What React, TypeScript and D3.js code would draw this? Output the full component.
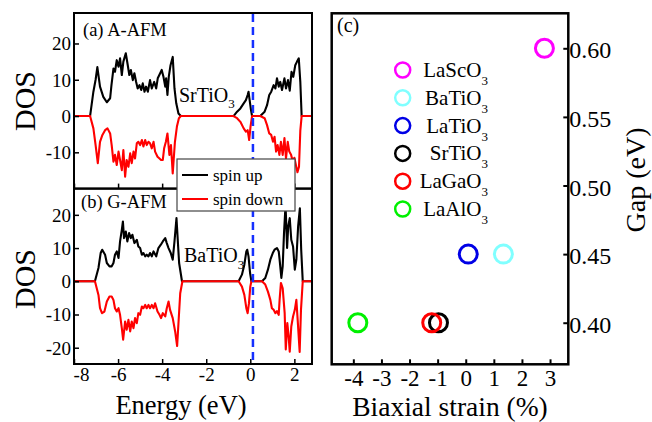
import * as d3 from 'd3';
import { useEffect, useRef } from 'react';

// (a) A-AFM, SrTiO3 : [energy (eV), DOS]
const aUp = [
  [-8, 0], [-7.27, 0], [-7.12, 6.7], [-7.02, 10], [-6.94, 13.5], [-6.82, 8.1], [-6.67, 5.3], [-6.51, 3.8],
  [-6.36, 4.9], [-6.3, 8.5], [-6.21, 13.1], [-6.14, 12.2], [-6.06, 15.4], [-5.98, 13.6], [-5.91, 15.9],
  [-5.83, 11.3], [-5.76, 15.0], [-5.65, 17.3], [-5.56, 14.0], [-5.49, 11.3], [-5.42, 12.7], [-5.33, 9.9],
  [-5.26, 11.8], [-5.18, 9.4], [-5.11, 7.6], [-5.03, 8.5], [-4.95, 7.2], [-4.88, 9.0], [-4.8, 6.7],
  [-4.73, 8.1], [-4.65, 6.7], [-4.55, 9.9], [-4.47, 7.6], [-4.36, 9.4], [-4.27, 7.6], [-4.2, 10.4],
  [-4.09, 11.8], [-4.02, 12.7], [-3.94, 10.8], [-3.86, 8.1], [-3.82, 10.4], [-3.76, 5.8], [-3.7, 10.8],
  [-3.62, 14.0], [-3.52, 16.3], [-3.44, 7.6], [-3.36, 3.5], [-3.26, 0.7], [-3.15, 0],
  [-0.76, 0], [-0.6, 1.2], [-0.45, 2.1], [-0.3, 3.5], [-0.2, 4.4], [-0.12, 5.8], [-0.08, 6.7],
  [-0.03, 4.4], [0.03, 1.7], [0.08, 0],
  [0.45, 0], [0.65, 1.2], [0.76, 3.0], [0.86, 5.8], [0.95, 6.7], [1.06, 8.5], [1.14, 7.6], [1.21, 10.4],
  [1.29, 8.1], [1.36, 9.4], [1.44, 7.2], [1.55, 10.4], [1.62, 7.6], [1.71, 9.9], [1.79, 7.0], [1.87, 12.2],
  [1.95, 10.8], [2.04, 14.0], [2.12, 15.0], [2.2, 15.9], [2.27, 9.4], [2.33, 0], [2.8, 0],
];
const aDown = [
  [-8, 0], [-7.27, 0], [-7.12, -3.4], [-7.02, -8], [-6.92, -13], [-6.82, -7.1], [-6.71, -5.2], [-6.59, -3.9],
  [-6.48, -3.4], [-6.36, -4.8], [-6.29, -8], [-6.21, -12.6], [-6.14, -10.7], [-6.06, -13.5], [-5.98, -9.8],
  [-5.91, -12.1], [-5.83, -14.9], [-5.76, -9.4], [-5.68, -16.7], [-5.61, -12.1], [-5.53, -14], [-5.45, -10.3],
  [-5.38, -13], [-5.3, -9.8], [-5.23, -11.7], [-5.15, -7.5], [-5.08, -7.1], [-5.0, -8], [-4.92, -6.6],
  [-4.85, -8.4], [-4.77, -6.6], [-4.7, -8], [-4.62, -7.1], [-4.55, -7.5], [-4.47, -8.9], [-4.39, -7.1],
  [-4.32, -9.8], [-4.21, -11.2], [-4.12, -11.7], [-4.05, -12.1], [-3.97, -12.1], [-3.91, -8.9], [-3.83, -7.1],
  [-3.76, -4.8], [-3.67, -10.7], [-3.6, -8], [-3.52, -15.8], [-3.42, -7.1], [-3.33, -2.9], [-3.24, -0.6],
  [-3.15, 0],
  [-0.76, 0], [-0.6, -0.6], [-0.45, -1.6], [-0.3, -3.4], [-0.2, -4.3], [-0.12, -3.9], [-0.05, -6.6],
  [0.01, -2.9], [0.08, 0],
  [0.45, 0], [0.65, -0.6], [0.76, -2.5], [0.86, -4.8], [0.95, -5.2], [1.03, -7.1], [1.1, -5.7], [1.17, -9.8],
  [1.24, -8], [1.32, -10.7], [1.39, -7.1], [1.47, -10.7], [1.55, -6.1], [1.62, -11.7], [1.7, -7.1],
  [1.77, -9.8], [1.85, -10.7], [1.93, -12.5], [2.0, -11.5], [2.07, -13.5], [2.14, -15.5], [2.21, -14],
  [2.27, -4], [2.33, 0], [2.8, 0],
];

// (b) G-AFM, BaTiO3
const bUp = [
  [-8, 0], [-7.05, 0], [-6.89, 4.0], [-6.79, 8.5], [-6.72, 9.5], [-6.59, 8.0], [-6.51, 5.5], [-6.39, 4.5],
  [-6.29, 4.5], [-6.21, 5.5], [-6.14, 8.0], [-6.06, 9.0], [-5.98, 7.0], [-5.91, 12.0], [-5.83, 15.5],
  [-5.78, 18.0], [-5.73, 13.0], [-5.65, 15.0], [-5.58, 12.0], [-5.5, 14.5], [-5.42, 13.0], [-5.35, 14.0],
  [-5.26, 11.5], [-5.15, 12.5], [-5.08, 10.5], [-5.0, 10.0], [-4.92, 8.0], [-4.85, 8.5], [-4.77, 7.5],
  [-4.7, 8.0], [-4.62, 7.5], [-4.55, 8.5], [-4.47, 7.5], [-4.39, 9.0], [-4.27, 7.5], [-4.17, 10.0],
  [-4.06, 11.0], [-3.97, 12.0], [-3.86, 13.0], [-3.79, 11.5], [-3.71, 10.0], [-3.61, 8.5], [-3.52, 6.5],
  [-3.44, 12], [-3.35, 19.0], [-3.23, 5.5], [-3.1, 0],
  [-0.53, 0], [-0.38, 2.0], [-0.27, 5.0], [-0.18, 9.0], [-0.14, 9.5], [-0.08, 7.5], [-0.01, 2.5], [0.05, 0],
  [0.53, 0], [0.68, 1.0], [0.8, 3.5], [0.91, 6.5], [1.02, 8.5], [1.1, 9.5], [1.21, 10.0], [1.29, 9.0],
  [1.33, 6.5], [1.41, 1.0], [1.47, 4.5], [1.53, 14.5], [1.6, 23], [1.67, 10.0], [1.72, 16.5], [1.79, 19.0],
  [1.86, 12.5], [1.94, 10.5], [2.02, 3.5], [2.09, 6.5], [2.17, 16.5], [2.25, 22.0], [2.31, 9.5], [2.38, 0],
  [2.8, 0],
];
const bDown = [
  [-8, 0], [-7.05, 0], [-6.89, -4.1], [-6.82, -8.1], [-6.73, -9.6], [-6.62, -9.1], [-6.51, -6.1],
  [-6.39, -4.6], [-6.29, -4.6], [-6.21, -5.6], [-6.14, -8.1], [-6.06, -9.1], [-5.98, -8.1], [-5.91, -10.1],
  [-5.83, -14.1], [-5.77, -17.6], [-5.68, -12.1], [-5.61, -14.6], [-5.53, -11.6], [-5.45, -15.1],
  [-5.38, -12.1], [-5.3, -14.1], [-5.23, -11.1], [-5.15, -12.6], [-5.08, -9.6], [-5.0, -10.1], [-4.92, -7.6],
  [-4.85, -8.1], [-4.77, -7.1], [-4.7, -8.1], [-4.62, -7.1], [-4.55, -8.1], [-4.47, -7.1], [-4.39, -8.1],
  [-4.32, -6.6], [-4.21, -9.1], [-4.12, -10.1], [-4.05, -11.1], [-3.97, -9.6], [-3.86, -10.6], [-3.79, -8.1],
  [-3.71, -6.1], [-3.64, -8.6], [-3.52, -11.1], [-3.41, -15.1], [-3.32, -19.5], [-3.18, -3.6], [-3.08, 0],
  [-0.53, 0], [-0.38, -1.6], [-0.27, -4.1], [-0.18, -8.1], [-0.12, -9.6], [-0.06, -6.6], [0.0, -1.6],
  [0.05, 0],
  [0.53, 0], [0.68, -1.0], [0.8, -3.1], [0.91, -5.6], [0.98, -8.1], [1.06, -8.6], [1.14, -9.6],
  [1.21, -9.0], [1.29, -10.1], [1.33, -5.6], [1.39, -0.5], [1.47, -2.1], [1.56, -9.6], [1.61, -20.5],
  [1.68, -12.6], [1.74, -16.6], [1.79, -21.2], [1.86, -13.6], [1.94, -10.6], [2.02, -8.6], [2.09, -5.6],
  [2.15, -11.6], [2.24, -21.3], [2.3, -8.6], [2.38, 0], [2.8, 0],
];

const fermiLevel = 0.12;
const energyTicks = [-8, -6, -4, -2, 0, 2];
const dosTicksA = [-10, 0, 10, 20];
const dosTicksB = [-20, -10, 0, 10, 20];

// (c) gap vs strain
const materials = ['LaScO', 'BaTiO', 'LaTiO', 'SrTiO', 'LaGaO', 'LaAlO'];
const strain = [2.8, 1.34, 0.09, -0.97, -1.21, -3.84];
const gap = [0.6, 0.45, 0.45, 0.4, 0.4, 0.4];
const colors = ['#ff00ff', '#80ffff', '#0000e6', '#000000', '#ff0000', '#00f000'];
const strainTicks = [-4, -3, -2, -1, 0, 1, 2, 3];
const gapTicks = [0.4, 0.45, 0.5, 0.55, 0.6];

const FONT = "'Liberation Serif', 'Times New Roman', serif";
// plain hyphen instead of d3's unicode minus, like the original figure
const plain = (fmt) => (d) => d3.format(fmt)(d).replace('\u2212', '-');

const App = () => {
  const ref = useRef(null);

  useEffect(() => {
    const width = 652;
    const height = 422;
    ref.current.innerHTML = '';
    const svg = d3
      .select(ref.current)
      .append('svg')
      .attr('width', width)
      .attr('height', height)
      .style('position', 'absolute')
      .style('left', 0)
      .style('top', 0)
      .style('background', '#fff')
      .style('font-family', FONT);

    // left panels geometry
    const left = 74;
    const right = 312;
    const aTop = 13;
    const mid = 188.6;
    const bBottom = 364;

    const x = d3.scaleLinear([-8, 2.8], [left, right]);
    const yA = d3.scaleLinear([-20, 28.4], [mid, aTop]);
    const yB = d3.scaleLinear([-24.9, 27.9], [bBottom, mid]);

    const defs = svg.append('defs');
    defs.append('clipPath').attr('id', 'clipA')
      .append('rect').attr('x', left).attr('y', aTop).attr('width', right - left).attr('height', mid - aTop);
    defs.append('clipPath').attr('id', 'clipB')
      .append('rect').attr('x', left).attr('y', mid).attr('width', right - left).attr('height', bBottom - mid);

    const styleTicks = (a, size, sw) => {
      a.select('.domain').remove();
      a.style('font-family', FONT);
      a.selectAll('.tick line').attr('stroke', '#000').attr('stroke-width', sw);
      a.selectAll('.tick text').attr('font-size', size).style('font-family', FONT).attr('fill', '#000');
    };

    const drawPanel = (yScale, up, down, clip, yTicks, showLabels, top, bottom) => {
      const line = d3.line().x((d) => x(d[0])).y((d) => yScale(d[1]));
      const g = svg.append('g').attr('clip-path', `url(#${clip})`);
      g.append('path').attr('d', line(up)).attr('fill', 'none')
        .attr('stroke', '#000').attr('stroke-width', 2.1).attr('stroke-linejoin', 'round');
      g.append('path').attr('d', line(down)).attr('fill', 'none')
        .attr('stroke', '#ff0000').attr('stroke-width', 2.1).attr('stroke-linejoin', 'round');

      // y axis
      svg.append('g')
        .attr('transform', `translate(${left},0)`)
        .call(d3.axisLeft(yScale).tickValues(yTicks).tickSizeInner(-5).tickSizeOuter(0).tickPadding(3)
          .tickFormat(plain('d')))
        .call((a) => {
          styleTicks(a, 19, 1.5);
          a.selectAll('.tick text').attr('dy', '0.34em');
        });

      // x axis
      svg.append('g')
        .attr('transform', `translate(0,${bottom})`)
        .call(
          d3.axisBottom(x).tickValues(energyTicks).tickSizeInner(-5).tickSizeOuter(0).tickPadding(3)
            .tickFormat((d) => (showLabels ? plain('d')(d) : ''))
        )
        .call((a) => {
          styleTicks(a, 19, 1.5);
          a.selectAll('.tick text').filter((d) => d === -8).attr('dx', 7);
        });

      svg.append('rect')
        .attr('x', left).attr('y', top).attr('width', right - left).attr('height', bottom - top)
        .attr('fill', 'none').attr('stroke', '#000').attr('stroke-width', 2);
    };

    drawPanel(yA, aUp, aDown, 'clipA', dosTicksA, false, aTop, mid);
    drawPanel(yB, bUp, bDown, 'clipB', dosTicksB, true, mid, bBottom);

    // fermi level
    svg.append('line')
      .attr('x1', x(fermiLevel)).attr('x2', x(fermiLevel))
      .attr('y1', aTop + 1).attr('y2', bBottom - 1)
      .attr('stroke', '#1530ff').attr('stroke-width', 2.5).attr('stroke-dasharray', '8,5');

    // panel labels and compounds
    svg.append('text').attr('x', 83).attr('y', 36).attr('font-size', 18.5).text('(a) A-AFM');
    svg.append('text').attr('x', 81).attr('y', 208).attr('font-size', 18.5).text('(b) G-AFM');

    const chem = (tx, ty, name, size, sub, dy, anchor = 'start') => {
      const t = svg.append('text').attr('x', tx).attr('y', ty).attr('font-size', size).attr('text-anchor', anchor);
      t.append('tspan').text(name);
      t.append('tspan').attr('dy', dy).attr('font-size', sub).text('3');
      return t;
    };
    chem(179, 101.5, 'SrTiO', 20, 13, 6.5);
    chem(184, 261.5, 'BaTiO', 20, 13, 7);

    // DOS labels
    svg.append('text').attr('transform', 'translate(35,101) rotate(-90)')
      .attr('text-anchor', 'middle').attr('font-size', 30).text('DOS');
    svg.append('text').attr('transform', 'translate(35,279) rotate(-90)')
      .attr('text-anchor', 'middle').attr('font-size', 30).text('DOS');
    svg.append('text').attr('x', 181).attr('y', 414)
      .attr('text-anchor', 'middle').attr('font-size', 26.5).text('Energy (eV)');

    // spin legend
    const lg = svg.append('g');
    lg.append('rect').attr('x', 177).attr('y', 159).attr('width', 118).attr('height', 52)
      .attr('fill', '#fff').attr('stroke', '#444').attr('stroke-width', 1.2);
    [['spin up', '#000', 175], ['spin down', '#ff0000', 199]].forEach(([label, c, ly]) => {
      lg.append('line').attr('x1', 182).attr('x2', 208).attr('y1', ly).attr('y2', ly)
        .attr('stroke', c).attr('stroke-width', 2);
      lg.append('text').attr('x', 213).attr('y', ly + 6).attr('font-size', 17).text(label);
    });

    // (c) panel
    const cl = 331.7;
    const cr = 568.3;
    const ct = 13.3;
    const cb = 364.3;
    const xs = d3.scaleLinear([-4.77, 3.65], [cl, cr]);
    const ys = d3.scaleLinear([0.3697, 0.6255], [cb, ct]);

    svg.append('g')
      .attr('transform', `translate(0,${cb})`)
      .call(d3.axisBottom(xs).tickValues(strainTicks).tickSizeInner(-5).tickSizeOuter(0).tickPadding(5)
        .tickFormat(plain('d')))
      .call((a) => styleTicks(a, 23, 2));
    svg.append('g')
      .attr('transform', `translate(${cr},0)`)
      .call(d3.axisRight(ys).tickValues(gapTicks).tickSizeInner(-5).tickSizeOuter(0).tickPadding(1)
        .tickFormat(d3.format('.2f')))
      .call((a) => {
        styleTicks(a, 24, 2);
        a.selectAll('.tick text').attr('dy', '0.4em');
      });
    svg.append('rect')
      .attr('x', cl).attr('y', ct).attr('width', cr - cl).attr('height', cb - ct)
      .attr('fill', 'none').attr('stroke', '#000').attr('stroke-width', 2.5);

    svg.append('g').selectAll('circle')
      .data(materials)
      .join('circle')
      .attr('cx', (_, i) => xs(strain[i]))
      .attr('cy', (_, i) => ys(gap[i]))
      .attr('r', 9)
      .attr('fill', 'none')
      .attr('stroke', (_, i) => colors[i])
      .attr('stroke-width', 3);

    // (c) legend
    materials.forEach((m, i) => {
      const ly = 70 + i * 27.8;
      svg.append('circle').attr('cx', 402.7).attr('cy', ly).attr('r', 7.5)
        .attr('fill', 'none').attr('stroke', colors[i]).attr('stroke-width', 2.5);
      chem(488, ly + 7, m, 21, 13, 8, 'end');
    });

    svg.append('text').attr('x', 337).attr('y', 32).attr('font-size', 20).text('(c)');
    svg.append('text').attr('x', 450).attr('y', 416)
      .attr('text-anchor', 'middle').attr('font-size', 27.5).text('Biaxial strain (%)');
    svg.append('text').attr('transform', 'translate(645,180) rotate(-90)')
      .attr('text-anchor', 'middle').attr('font-size', 28).text('Gap (eV)');
  }, []);

  return <div ref={ref} />;
};

export default App;
